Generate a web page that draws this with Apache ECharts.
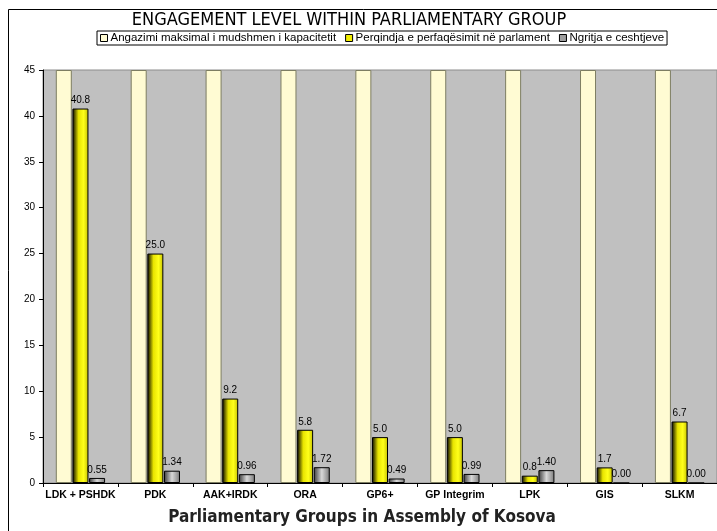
<!DOCTYPE html>
<html>
<head>
<meta charset="utf-8">
<title>Engagement level</title>
<script src="https://cdn.jsdelivr.net/npm/echarts@6/dist/echarts.min.js"></script>
<style>
  html, body { margin: 0; padding: 0; background: #fff; }
  #chart { width: 717px; height: 531px; }
</style>
</head>
<body>
<div id="chart"></div>
<script>
// groups on the x axis
var groups = ['LDK + PSHDK', 'PDK', 'AAK+IRDK', 'ORA', 'GP6+', 'GP Integrim', 'LPK', 'GIS', 'SLKM']
var seriesNames = [
  'Angazimi maksimal i mudshmen i kapacitetit',
  'Perqindja e perfaqësimit në parlament',
  'Ngritja e ceshtjeve'
]
// first series runs past the top of the axis, only 45 is visible
var maxCapacity = [45, 45, 45, 45, 45, 45, 45, 45, 45]
var representation = [40.8, 25.0, 9.2, 5.8, 5.0, 5.0, 0.8, 1.7, 6.7]
var issuesRaised = [0.55, 1.34, 0.96, 1.72, 0.49, 0.99, 1.40, 0.00, 0.00]
var yTicks = [0, 5, 10, 15, 20, 25, 30, 35, 40, 45]

var chart = echarts.init(document.getElementById('chart'))

var labelStyle = {
  show: true,
  position: 'top',
  distance: 3,
  color: '#000',
  fontFamily: 'Liberation Sans',
  fontSize: 10
}

chart.setOption({
  animation: false,
  title: [{
    text: 'ENGAGEMENT LEVEL WITHIN PARLIAMENTARY GROUP',
    left: 349,
    top: 11,
    textAlign: 'center',
    padding: 0,
    textStyle: {
      fontFamily: 'DejaVu Sans Condensed',
      fontWeight: 'normal',
      fontSize: 18,
      color: '#000'
    }
  }, {
    text: 'Parliamentary Groups in Assembly of Kosova',
    left: 362,
    top: 509,
    textAlign: 'center',
    padding: 0,
    textStyle: {
      fontFamily: 'DejaVu Sans Condensed',
      fontWeight: 'bold',
      fontSize: 17,
      color: '#222'
    }
  }],
  legend: {
    top: 31,
    left: 97,
    padding: [1, 3],
    itemGap: 9,
    itemWidth: 7,
    itemHeight: 7,
    icon: 'rect',
    borderColor: '#000',
    borderWidth: 1,
    backgroundColor: '#fff',
    textStyle: {
      fontFamily: 'Liberation Sans',
      fontSize: 11.5,
      color: '#000',
      padding: [0, 0, 0, -2]
    },
    data: [
      { name: seriesNames[0], itemStyle: { color: '#FFFBD3', borderColor: '#000', borderWidth: 1 } },
      { name: seriesNames[1], itemStyle: { color: '#F2EE00', borderColor: '#000', borderWidth: 1 } },
      { name: seriesNames[2], itemStyle: { color: '#A0A0A0', borderColor: '#000', borderWidth: 1 } }
    ]
  },
  grid: {
    left: 43,
    right: -1,
    top: 70,
    bottom: 48,
    show: true,
    backgroundColor: '#C0C0C0',
    borderColor: '#8c8c8c',
    borderWidth: 1
  },
  xAxis: {
    type: 'category',
    data: groups,
    axisLine: { lineStyle: { color: '#000', width: 1 } },
    axisTick: { show: true, length: 4, lineStyle: { color: '#000' } },
    axisLabel: {
      interval: 0,
      margin: 7,
      color: '#000',
      fontFamily: 'Liberation Sans',
      fontWeight: 'bold',
      fontSize: 10.5
    }
  },
  yAxis: {
    type: 'value',
    min: yTicks[0],
    max: yTicks[yTicks.length - 1],
    interval: 5,
    splitLine: { show: false },
    axisLine: { show: true, lineStyle: { color: '#000', width: 1 } },
    axisTick: { show: true, length: 4, lineStyle: { color: '#000' } },
    axisLabel: {
      margin: 8,
      color: '#000',
      fontFamily: 'Liberation Sans',
      fontSize: 10
    }
  },
  series: [{
    name: seriesNames[0],
    type: 'bar',
    barWidth: 16,
    barGap: '4%',
    data: maxCapacity,
    itemStyle: {
      color: '#FFFBD3',
      borderColor: '#7d7d62',
      borderWidth: 1
    }
  }, {
    name: seriesNames[1],
    type: 'bar',
    barWidth: 16,
    data: representation,
    label: Object.assign({}, labelStyle, {
      formatter: function (p) { return p.value.toFixed(1) }
    }),
    itemStyle: {
      // cylinder look, dark on the left
      color: new echarts.graphic.LinearGradient(0, 0, 1, 0, [
        { offset: 0, color: '#000000' },
        { offset: 0.15, color: '#5c5a00' },
        { offset: 0.38, color: '#e8e400' },
        { offset: 0.7, color: '#ffff1a' },
        { offset: 1, color: '#c4c000' }
      ]),
      borderColor: '#000',
      borderWidth: 1
    }
  }, {
    name: seriesNames[2],
    type: 'bar',
    barWidth: 16,
    data: issuesRaised,
    label: Object.assign({}, labelStyle, {
      formatter: function (p) { return p.value.toFixed(2) }
    }),
    itemStyle: {
      color: new echarts.graphic.LinearGradient(0, 0, 1, 0, [
        { offset: 0, color: '#3a3a3a' },
        { offset: 0.5, color: '#d8d8d8' },
        { offset: 1, color: '#7a7a7a' }
      ]),
      borderColor: '#000',
      borderWidth: 1
    }
  }],
  graphic: [{
    // outer chart border, right and bottom edges fall outside the picture
    type: 'rect',
    shape: { x: 8.5, y: 9.5, width: 720, height: 530 },
    style: { fill: 'none', stroke: '#000', lineWidth: 1 },
    silent: true,
    z: 100
  }]
})
</script>
</body>
</html>
